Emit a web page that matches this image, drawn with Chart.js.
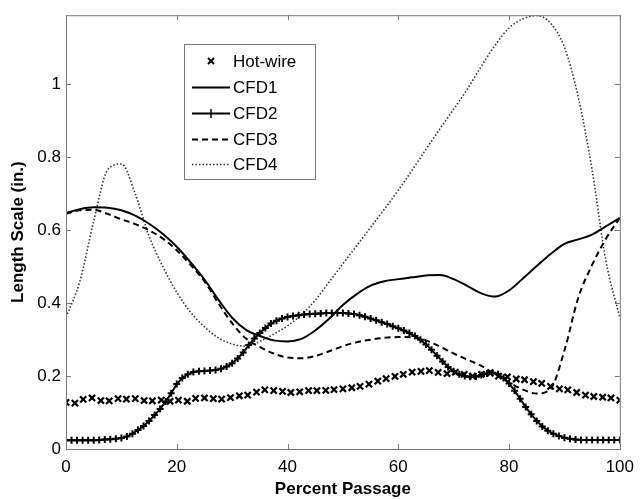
<!DOCTYPE html>
<html>
<head>
<meta charset="utf-8">
<script src="https://cdn.jsdelivr.net/npm/chart.js@4/dist/chart.umd.min.js"></script>
<style>
  html, body { margin: 0; padding: 0; background: #fff; }
  #wrap { width: 642px; height: 500px; }
</style>
</head>
<body>
<div id="wrap"><canvas id="myChart"></canvas></div>
<script>
// x positions of the hot-wire measurements (percent passage)
var hotwireX = [0, 1.6, 3.1, 4.7, 6.3, 7.8, 9.4, 10.9, 12.5, 14.1, 15.6, 17.2, 18.8, 20.3, 21.9, 23.4,
  25, 26.6, 28.1, 29.7, 31.3, 32.8, 34.4, 35.9, 37.5, 39.1, 40.6, 42.2, 43.8, 45.3, 46.9, 48.4,
  50, 51.6, 53.1, 54.7, 56.3, 57.8, 59.4, 60.9, 62.5, 64.1, 65.6, 67.2, 68.8, 70.3, 71.9, 73.4,
  75, 76.6, 78.1, 79.7, 81.3, 82.8, 84.4, 85.9, 87.5, 89.1, 90.6, 92.2, 93.8, 95.3, 96.9, 98.4, 100];
var hotwire = [0.128, 0.126, 0.136, 0.140, 0.133, 0.132, 0.138, 0.137, 0.138, 0.133, 0.132, 0.134, 0.131, 0.134, 0.131, 0.139,
  0.140, 0.138, 0.137, 0.141, 0.146, 0.148, 0.156, 0.162, 0.160, 0.158, 0.155, 0.157, 0.160, 0.160, 0.161, 0.163,
  0.165, 0.168, 0.172, 0.178, 0.186, 0.193, 0.199, 0.205, 0.211, 0.213, 0.215, 0.210, 0.207, 0.211, 0.205, 0.200,
  0.205, 0.208, 0.200, 0.198, 0.192, 0.190, 0.185, 0.180, 0.172, 0.165, 0.162, 0.155, 0.148, 0.144, 0.142, 0.140, 0.134];

// x positions for the smooth CFD curves
var lineX = [0, 2.5, 5, 7.5, 10, 12.5, 15, 17.5, 20, 22.5, 25, 27.5, 30, 32.5, 35, 37.5, 40, 42.5, 45, 47.5,
  50, 52.5, 55, 57.5, 60, 62.5, 65, 67.5, 70, 72.5, 75, 77.5, 80, 82.5, 85, 87.5, 90, 92.5, 95, 97.5, 100];
var cfd1 = [0.647, 0.658, 0.663, 0.662, 0.655, 0.640, 0.618, 0.590, 0.555, 0.512, 0.465, 0.410, 0.360, 0.327, 0.310, 0.298, 0.295, 0.302, 0.325, 0.357,
  0.395, 0.425, 0.448, 0.460, 0.466, 0.471, 0.476, 0.477, 0.466, 0.447, 0.427, 0.418, 0.435, 0.468, 0.502, 0.535, 0.563, 0.575, 0.588, 0.611, 0.634];
var cfd3 = [0.645, 0.655, 0.656, 0.645, 0.630, 0.617, 0.600, 0.577, 0.545, 0.505, 0.460, 0.400, 0.345, 0.303, 0.280, 0.262, 0.251, 0.249, 0.255, 0.268,
  0.282, 0.293, 0.300, 0.305, 0.307, 0.306, 0.298, 0.281, 0.262, 0.245, 0.228, 0.205, 0.183, 0.163, 0.152, 0.165, 0.270, 0.415, 0.505, 0.577, 0.634];
var cfd4 = [0.361, 0.460, 0.625, 0.765, 0.782, 0.700, 0.584, 0.500, 0.430, 0.375, 0.335, 0.305, 0.288, 0.282, 0.295, 0.315, 0.338, 0.368, 0.408, 0.458,
  0.508, 0.558, 0.608, 0.658, 0.710, 0.765, 0.822, 0.878, 0.932, 0.988, 1.050, 1.108, 1.155, 1.180, 1.189, 1.168, 1.102, 0.965, 0.765, 0.515, 0.361];

// CFD2 is plotted with a marker at every point
var cfd2X = [0, 1, 2, 3, 4, 5, 6, 7, 8, 9, 10, 11, 12, 13, 14, 15, 16, 17, 18, 19, 20, 21, 22, 23, 24, 25, 26, 27, 28, 29,
  30, 31, 32, 33, 34, 35, 36, 37, 38, 39, 40, 41, 42, 43, 44, 45, 46, 47, 48, 49, 50, 51, 52, 53, 54, 55, 56, 57, 58, 59,
  60, 61, 62, 63, 64, 65, 66, 67, 68, 69, 70, 71, 72, 73, 74, 75, 76, 77, 78, 79, 80, 81, 82, 83, 84, 85, 86, 87, 88, 89,
  90, 91, 92, 93, 94, 95, 96, 97, 98, 99, 100];
var cfd2 = [0.024, 0.024, 0.024, 0.024, 0.024, 0.024, 0.025, 0.026, 0.027, 0.028,
  0.030, 0.034, 0.042, 0.052, 0.063, 0.077, 0.093, 0.110, 0.130, 0.153,
  0.178, 0.195, 0.205, 0.211, 0.213, 0.214, 0.215, 0.217, 0.220, 0.226,
  0.235, 0.248, 0.265, 0.285, 0.303, 0.318, 0.332, 0.344, 0.352, 0.358,
  0.362, 0.365, 0.367, 0.369, 0.370, 0.371, 0.372, 0.373, 0.373, 0.373,
  0.373, 0.372, 0.370, 0.367, 0.363, 0.358, 0.353, 0.348, 0.343, 0.337,
  0.331, 0.325, 0.318, 0.310, 0.300, 0.287, 0.272, 0.256, 0.240, 0.225,
  0.213, 0.205, 0.200, 0.198, 0.199, 0.203, 0.207, 0.209, 0.205, 0.195,
  0.180, 0.160, 0.138, 0.115, 0.095, 0.077, 0.062, 0.050, 0.042, 0.036,
  0.031, 0.028, 0.026, 0.025, 0.025, 0.025, 0.025, 0.025, 0.025, 0.025, 0.025];

var xTicks = [0, 20, 40, 60, 80, 100];
var yTicks = [0, 0.2, 0.4, 0.6, 0.8, 1];

function pts(xs, ys) {
  return xs.map(function (x, i) { return { x: x, y: ys[i] }; });
}

var FONT = "'Liberation Sans', Arial, sans-serif";
var AXIS_GREY = '#7a7a7a';

// matlab style box with inward ticks + legend box
var boxPlugin = {
  id: 'box',
  afterDraw: function (chart) {
    var c = chart.ctx, a = chart.chartArea;
    var sx = chart.scales.x, sy = chart.scales.y;
    c.save();
    c.strokeStyle = AXIS_GREY;
    c.lineWidth = 1;
    c.strokeRect(a.left + 0.5, a.top + 0.5, a.right - a.left, a.bottom - a.top);
    c.beginPath();
    xTicks.forEach(function (v) {
      var px = Math.round(sx.getPixelForValue(v)) + 0.5;
      c.moveTo(px, a.bottom); c.lineTo(px, a.bottom - 5);
      c.moveTo(px, a.top); c.lineTo(px, a.top + 5);
    });
    yTicks.forEach(function (v) {
      var py = Math.round(sy.getPixelForValue(v)) + 0.5;
      c.moveTo(a.left, py); c.lineTo(a.left + 5, py);
      c.moveTo(a.right, py); c.lineTo(a.right - 5, py);
    });
    c.stroke();

    // legend
    var lx = 184, ly = 44, lw = 131, lh = 135;
    c.fillStyle = '#fff';
    c.fillRect(lx, ly, lw, lh);
    c.strokeRect(lx + 0.5, ly + 0.5, lw, lh);
    var rows = [61, 87, 113, 139, 164];
    c.font = '17px ' + FONT;
    c.textBaseline = 'middle';
    chart.data.datasets.forEach(function (ds, i) {
      var y = rows[i];
      c.strokeStyle = ds.borderColor;
      c.lineWidth = ds.borderWidth;
      c.setLineDash(ds.borderDash || []);
      if (i === 0) {
        c.lineWidth = 2;
        c.beginPath();
        c.moveTo(208, y - 3); c.lineTo(214, y + 3);
        c.moveTo(214, y - 3); c.lineTo(208, y + 3);
        c.stroke();
      } else {
        c.beginPath();
        c.moveTo(192, y + 0.5); c.lineTo(230, y + 0.5);
        c.stroke();
        if (i === 2) {
          c.setLineDash([]);
          c.lineWidth = 1.5;
          c.beginPath();
          c.moveTo(211, y - 4); c.lineTo(211, y + 5);
          c.stroke();
        }
      }
      c.setLineDash([]);
      c.fillStyle = '#000';
      c.fillText(ds.label, 233, y + 1);
    });
    c.restore();
  }
};

var ctx = document.getElementById('myChart').getContext('2d');
var myChart = new Chart(ctx, {
  type: 'scatter',
  data: {
    datasets: [{
      label: 'Hot-wire',
      data: pts(hotwireX, hotwire),
      showLine: false,
      pointStyle: 'crossRot',
      pointRadius: 4.4,
      borderWidth: 2.2,
      borderColor: '#000',
      backgroundColor: '#000'
    },
    {
      label: 'CFD1',
      data: pts(lineX, cfd1),
      showLine: true,
      pointRadius: 0,
      borderWidth: 2,
      borderColor: '#000',
      cubicInterpolationMode: 'monotone'
    },
    {
      label: 'CFD2',
      data: pts(cfd2X, cfd2),
      showLine: true,
      pointStyle: 'cross',
      pointRadius: 3.5,
      pointBorderWidth: 2,
      borderWidth: 2,
      borderColor: '#000',
      backgroundColor: '#000'
    },
    {
      label: 'CFD3',
      data: pts(lineX, cfd3),
      showLine: true,
      pointRadius: 0,
      borderWidth: 2,
      borderDash: [6, 4],
      borderColor: '#000',
      cubicInterpolationMode: 'monotone'
    },
    {
      label: 'CFD4',
      data: pts(lineX, cfd4),
      showLine: true,
      pointRadius: 0,
      borderWidth: 1.6,
      borderDash: [1.5, 2],
      borderColor: '#333',
      cubicInterpolationMode: 'monotone'
    }]
  },
  options: {
    responsive: true,
    maintainAspectRatio: false,
    animation: false,
    layout: { padding: { top: 9, right: 17, left: 8, bottom: 0 } },
    plugins: {
      legend: { display: false },
      tooltip: { enabled: false }
    },
    scales: {
      x: {
        type: 'linear',
        min: 0,
        max: 100,
        grid: { display: false, drawTicks: false },
        border: { display: false },
        afterBuildTicks: function (s) { s.ticks = xTicks.map(function (v) { return { value: v }; }); },
        afterFit: function (s) { s.height = 51; },
        ticks: { color: '#000', padding: 8, font: { family: FONT, size: 17 } },
        title: {
          display: true,
          text: 'Percent Passage',
          color: '#000',
          padding: { top: 0, bottom: 0 },
          font: { family: FONT, size: 17, weight: 'bold' }
        }
      },
      y: {
        min: 0,
        max: 1.19,
        grid: { display: false, drawTicks: false },
        border: { display: false },
        afterBuildTicks: function (s) { s.ticks = yTicks.map(function (v) { return { value: v }; }); },
        afterFit: function (s) { s.width = 58; },
        ticks: {
          color: '#000',
          padding: 5,
          font: { family: FONT, size: 17 },
          callback: function (v) { return String(Math.round(v * 10) / 10); }
        },
        title: {
          display: true,
          text: 'Length Scale (in.)',
          color: '#000',
          padding: { top: 0, bottom: 0 },
          font: { family: FONT, size: 17, weight: 'bold' }
        }
      }
    }
  },
  plugins: [boxPlugin]
});
</script>
</body>
</html>
